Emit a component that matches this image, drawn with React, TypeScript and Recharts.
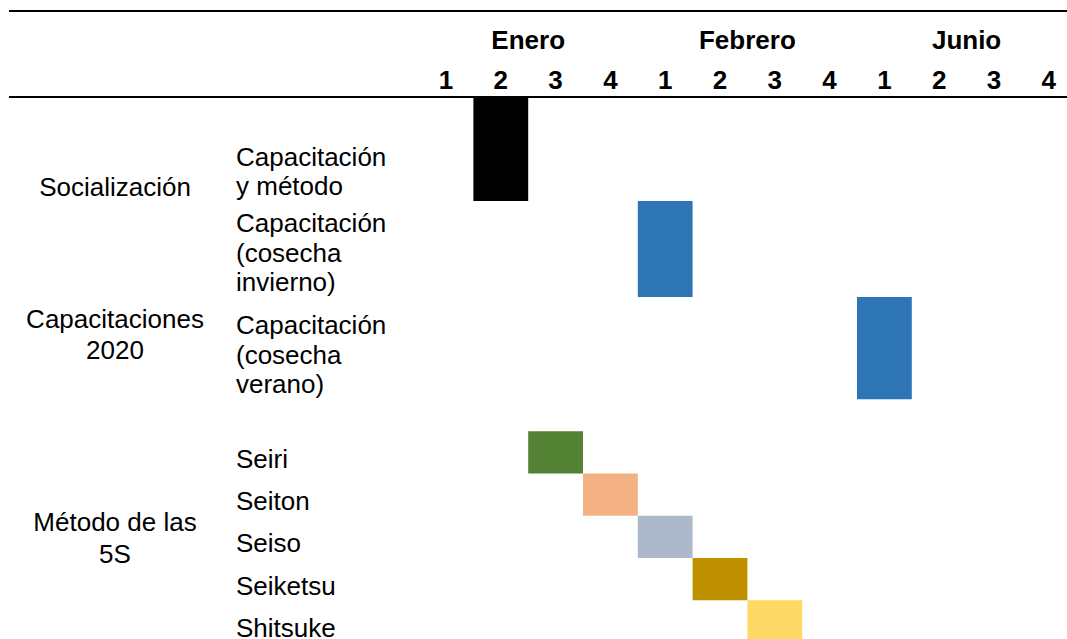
import React from "react";
import { ComposedChart, XAxis, YAxis, ReferenceArea } from "recharts";

// ---------- data ----------
const months = ["Enero", "Febrero", "Junio"];
const weekLabels = ["1", "2", "3", "4", "1", "2", "3", "4", "1", "2", "3", "4"];

const taskLabels: string[][] = [
  ["Capacitación", "y método"],
  ["Capacitación", "(cosecha", "invierno)"],
  ["Capacitación", "(cosecha", "verano)"],
  [],
  ["Seiri"],
  ["Seiton"],
  ["Seiso"],
  ["Seiketsu"],
  ["Shitsuke"],
];
// week column index (0 = Enero semana 1) where each activity starts, and how many weeks it lasts
const taskStartWeek: (number | null)[] = [1, 4, 8, null, 2, 3, 4, 5, 6];
const taskDurationWeeks = [1, 1, 1, 0, 1, 1, 1, 1, 1];

const groupLabels: string[][] = [
  ["Socialización"],
  ["Capacitaciones", "2020"],
  ["Método de las", "5S"],
];
const groupFirstRow = [0, 1, 4];
const groupLastRow = [0, 2, 8];

// ---------- styles / layout ----------
const BAR_COLORS = ["#000000", "#2E75B6", "#2E75B6", "none", "#548235", "#F4B183", "#ADB9CA", "#BF9000", "#FFD966"];
const ROW_UNITS = [2.45, 2.27, 2.42, 0.76, 1, 1, 1, 1, 1];
const GROUP_NUDGE = [37, 34, 1];
const FONT = "'Liberation Sans', Arial, sans-serif";
const FS = 26;
const LINE_H = 29.5;
const TASK_X = 236;
const GROUP_CX = 115;
const WEEK_BASELINE = 89;
const MONTH_BASELINE = 49;

const rowTop: number[] = [];
const rowBottom: number[] = [];
{
  let acc = 0;
  ROW_UNITS.forEach((u) => {
    rowTop.push(acc);
    acc += u;
    rowBottom.push(acc);
  });
}
const TOTAL = rowBottom[rowBottom.length - 1];

const weekTicks = weekLabels.map((_, i) => i + 0.5);
const monthTicks = months.map((_, i) => i * 4 + 2);
const taskTicks = rowBottom.filter((_, i) => taskLabels[i].length > 0);
const groupTicks = groupLabels.map((_, g) => (rowTop[groupFirstRow[g]] + rowBottom[groupLastRow[g]]) / 2);

const chartRows = taskLabels.map((l, i) => ({
  name: l.join(" "),
  start: taskStartWeek[i],
  dur: taskDurationWeeks[i],
}));

const WeekTick = (props: any) => {
  const { x, index } = props;
  return (
    <text x={x} y={WEEK_BASELINE} textAnchor="middle" fontFamily={FONT} fontSize={FS} fontWeight="bold" fill="#000">
      {weekLabels[index]}
    </text>
  );
};

const MonthTick = (props: any) => {
  const { x, index } = props;
  return (
    <text x={x} y={MONTH_BASELINE} textAnchor="middle" fontFamily={FONT} fontSize={FS} fontWeight="bold" fill="#000">
      {months[index]}
    </text>
  );
};

const TaskTick = (props: any) => {
  const { y, payload } = props;
  const idx = rowBottom.findIndex((b) => Math.abs(b - payload.value) < 1e-6);
  if (idx < 0) return <g />;
  const lines = taskLabels[idx];
  const n = lines.length;
  return (
    <g>
      {lines.map((t, k) => (
        <text
          key={k}
          x={TASK_X}
          y={y - 5.7 - (n - 1 - k) * LINE_H}
          textAnchor="start"
          fontFamily={FONT}
          fontSize={FS}
          fill="#000"
        >
          {t}
        </text>
      ))}
    </g>
  );
};

const GroupTick = (props: any) => {
  const { y, index } = props;
  const lines = groupLabels[index] || [];
  const n = lines.length;
  const c = y + GROUP_NUDGE[index];
  return (
    <g>
      {lines.map((t, k) => (
        <text
          key={k}
          x={GROUP_CX}
          y={c + 9.3 + (k - (n - 1) / 2) * 31.5}
          textAnchor="middle"
          fontFamily={FONT}
          fontSize={FS}
          fill="#000"
        >
          {t}
        </text>
      ))}
    </g>
  );
};

export default function App() {
  return (
    <div
      style={{
        position: "absolute",
        left: 0,
        top: 0,
        width: 1067,
        height: 639,
        overflow: "hidden",
        background: "#fff",
      }}
    >
      <ComposedChart
        width={1080}
        height={643}
        data={chartRows}
        margin={{ top: 0, right: 3.8, bottom: 0.5, left: 0 }}
      >
        <XAxis
          xAxisId="week"
          dataKey="start"
          orientation="top"
          type="number"
          domain={[0, 12]}
          ticks={weekTicks}
          interval={0}
          height={43.5}
          axisLine={false}
          tickLine={false}
          allowDataOverflow
          tick={(p: any) => <WeekTick {...p} />}
        />
        <XAxis
          xAxisId="month"
          dataKey="start"
          orientation="top"
          type="number"
          domain={[0, 12]}
          ticks={monthTicks}
          interval={0}
          height={54}
          axisLine={false}
          tickLine={false}
          allowDataOverflow
          tick={(p: any) => <MonthTick {...p} />}
        />
        <YAxis
          yAxisId="task"
          type="number"
          domain={[0, TOTAL]}
          reversed
          ticks={taskTicks}
          interval={0}
          width={218.6}
          axisLine={false}
          tickLine={false}
          allowDataOverflow
          tick={(p: any) => <TaskTick {...p} />}
        />
        <YAxis
          yAxisId="group"
          type="number"
          domain={[0, TOTAL]}
          reversed
          ticks={groupTicks}
          interval={0}
          width={200}
          axisLine={false}
          tickLine={false}
          allowDataOverflow
          tick={(p: any) => <GroupTick {...p} />}
        />
        {chartRows.map((r, i) =>
          r.start === null || r.dur === 0 ? null : (
            <ReferenceArea
              key={i}
              xAxisId="week"
              yAxisId="task"
              x1={r.start}
              x2={r.start + r.dur}
              y1={rowTop[i]}
              y2={rowBottom[i]}
              fill={BAR_COLORS[i]}
              fillOpacity={1}
              stroke="none"
              ifOverflow="visible"
            />
          )
        )}
      </ComposedChart>
      <div style={{ position: "absolute", left: 9, right: 0, top: 10, height: 2, background: "#000" }} />
      <div style={{ position: "absolute", left: 9, right: 0, top: 96, height: 2, background: "#000" }} />
    </div>
  );
}
